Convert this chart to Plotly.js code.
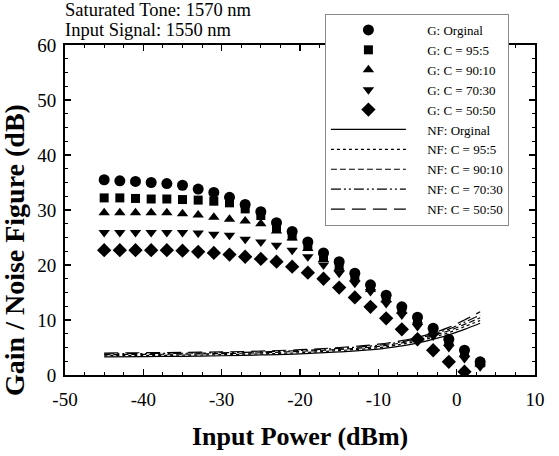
<!DOCTYPE html>
<html><head><meta charset="utf-8">
<script src="https://cdn.plot.ly/plotly-3.0.1.min.js"></script>
<style>html,body{margin:0;padding:0;background:#fff}#chart{width:559px;height:456px}</style>
</head><body><div id="chart"></div>
<script>
const inputPower = [-45,-43,-41,-39,-37,-35,-33,-31,-29,-27,-25,-23,-21,-19,-17,-15,-13,-11,-9,-7,-5,-3,-1,1,3];
const gainOriginal = [35.5,35.3,35.2,35.0,34.8,34.5,33.8,33.2,32.3,31.0,29.7,27.7,26.1,24.2,22.2,20.6,18.5,16.4,14.5,12.4,10.5,8.5,6.5,4.5,2.4];
const gain95_5 = [32.2,32.2,32.1,32.0,32.0,31.9,31.8,31.6,31.3,30.2,29.0,26.7,25.3,23.5,21.5,19.8,17.9,15.9,14.0,11.9,10.0,8.0,6.0,4.0,2.2];
const gain90_10 = [29.5,29.5,29.5,29.5,29.5,29.3,29.1,28.7,28.3,28.0,27.5,26.2,24.9,23.0,21.0,19.4,17.5,15.6,13.7,11.6,9.8,7.8,5.8,3.8,2.0];
const gain70_30 = [25.9,25.9,25.9,25.9,25.9,25.9,25.8,25.6,25.4,24.7,24.2,23.6,22.7,21.5,20.0,18.5,16.7,15.2,13.0,10.9,8.8,7.1,5.0,3.0,1.5];
const gain50_50 = [22.7,22.7,22.7,22.7,22.7,22.6,22.4,22.2,21.9,21.5,21.1,20.6,19.7,18.6,17.5,15.9,14.1,12.4,10.3,8.3,6.5,4.5,2.4,0.6,-1.5];

const nfPower = [-45,-40,-35,-30,-25,-20,-15,-10,-7,-5,-3,-1,1,3];
const nfOriginal = [3.3,3.35,3.4,3.5,3.65,3.85,4.2,4.7,5.3,5.8,6.5,7.3,8.3,9.4];
const nf95_5 = [3.5,3.55,3.6,3.7,3.85,4.05,4.45,4.95,5.6,6.15,6.85,7.7,8.8,9.9];
const nf90_10 = [3.7,3.75,3.8,3.9,4.05,4.3,4.65,5.2,5.85,6.4,7.15,8.05,9.2,10.4];
const nf70_30 = [3.85,3.9,3.95,4.05,4.2,4.45,4.85,5.4,6.05,6.65,7.4,8.35,9.6,10.9];
const nf50_50 = [4.0,4.05,4.1,4.2,4.35,4.6,5.0,5.6,6.25,6.85,7.65,8.65,10.0,11.5];

const gainNames = ['G: Orginal','G: C = 95:5','G: C = 90:10','G: C = 70:30','G: C = 50:50'];
const nfNames = ['NF: Orginal','NF: C = 95:5','NF: C = 90:10','NF: C = 70:30','NF: C = 50:50'];

const xTickVals = [-50,-40,-30,-20,-10,0,10];
const xTickLabels = ['-50','-40','-30','-20','-10','0','10'];
const yTickVals = [0,10,20,30,40,50,60];
const yTickLabels = ['0','10','20','30','40','50','60'];

const gainSeries = [gainOriginal,gain95_5,gain90_10,gain70_30,gain50_50];
const nfSeries = [nfOriginal,nf95_5,nf90_10,nf70_30,nf50_50];
const symbols = ['circle','square','triangle-up','triangle-down','diamond'];
const sizes = [11,9,10,10,11];
const dashes = ['solid','dot','6px,3px','10px,3px,2px,3px,2px,3px','14px,7px'];
const pad = '&nbsp;&nbsp;&nbsp;&nbsp;&nbsp;';

const traces = [];
gainSeries.forEach((s,i)=>traces.push({x:inputPower,y:s,name:pad+gainNames[i],mode:'markers',type:'scatter',
  marker:{symbol:symbols[i],size:sizes[i],color:'#000'}}));
nfSeries.forEach((s,i)=>traces.push({x:nfPower,y:s,name:pad+nfNames[i],mode:'lines',type:'scatter',
  line:{color:'#000',width:1.2,dash:dashes[i],shape:'spline'}}));

const serif = '"Liberation Serif", "Times New Roman", serif';
const tf = {family:serif, size:19, color:'#000'};
const axisCommon = {showgrid:false, zeroline:false, showline:true, linecolor:'#000', linewidth:2,
  ticks:'inside', ticklen:6, tickwidth:1.5, tickcolor:'#000', mirror:'allticks', tickfont:tf, tickmode:'array',
  minor:{dtick:2.5, ticks:'inside', ticklen:3, tickwidth:1, tickcolor:'#000'}};

const layout = {
  width:559, height:456, paper_bgcolor:'#fff', plot_bgcolor:'#fff',
  margin:{l:65, r:24, t:45, b:81},
  font:{family:serif, color:'#000'},
  xaxis:Object.assign({}, axisCommon, {range:[-50,10], tickvals:xTickVals, ticktext:xTickLabels, ticklabelstandoff:6}),
  yaxis:Object.assign({}, axisCommon, {range:[0,60], tickvals:yTickVals, ticktext:yTickLabels, ticklabelstandoff:3}),
  showlegend:true,
  legend:{x:0.553, y:1.094, xanchor:'left', yanchor:'top', bgcolor:'#fff', bordercolor:'#888', borderwidth:1,
    font:{family:serif, size:13, color:'#000'}, itemwidth:75, tracegroupgap:0},
  annotations:[
    {text:'Saturated Tone: 1570 nm', xref:'paper', yref:'paper', x:-0.004, y:(375-10)/330, xanchor:'left', yanchor:'middle', showarrow:false, font:{size:18.5}},
    {text:'Input Signal: 1550 nm', xref:'paper', yref:'paper', x:-0.004, y:(375-30)/330, xanchor:'left', yanchor:'middle', showarrow:false, font:{size:18.5}},
    {text:'<b>Input Power (dBm)</b>', xref:'paper', yref:'paper', x:0.5, y:(375-436)/330, xanchor:'center', yanchor:'middle', showarrow:false, font:{size:26}},
    {text:'<b>Gain / Noise Figure (dB)</b>', xref:'paper', yref:'paper', x:(14-65)/470, y:(375-250)/330, xanchor:'center', yanchor:'middle', textangle:-90, showarrow:false, font:{size:28}}
  ]
};
Plotly.newPlot('chart', traces, layout, {displayModeBar:false, staticPlot:true});
</script></body></html>
